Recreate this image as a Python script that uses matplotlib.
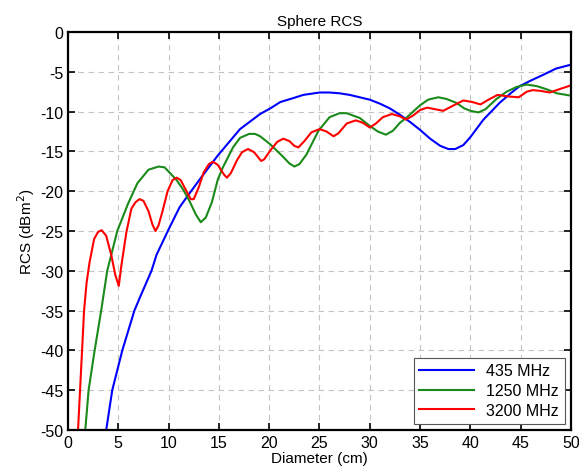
import numpy as np
import matplotlib
matplotlib.use("Agg")
import matplotlib.pyplot as plt

plt.rcParams['font.family'] = ['Liberation Sans', 'DejaVu Sans']
plt.rcParams['axes.unicode_minus'] = False

# values (diameter in cm, RCS in dBm^2)
d435 = [3.8, 4.4, 5.4, 6.6, 7.2, 8.3, 8.8, 10.0, 11.1, 12.0, 13.4, 14.9, 17.1, 19.1, 20.1,
        21.1, 22.4, 23.4, 25.0, 26.0, 27.0, 28.0, 29.0, 30.0, 31.0, 32.0, 33.0, 34.0, 35.0,
        36.0, 37.0, 37.8, 38.5, 39.3, 40.0, 41.3, 42.3, 42.9, 44.0, 44.9, 46.0, 47.2, 48.5, 50.0]
rcs435 = [-50, -45, -40, -35, -33.2, -30, -28, -24.8, -22.0, -20.4, -18.0, -15.5, -12.2, -10.3, -9.6,
          -8.8, -8.3, -7.9, -7.6, -7.6, -7.7, -7.9, -8.2, -8.5, -9.0, -9.6, -10.4, -11.3, -12.3,
          -13.4, -14.3, -14.7, -14.7, -14.2, -13.2, -11.0, -9.7, -8.9, -7.7, -6.8, -6.1, -5.4, -4.6, -4.1]

d1250 = [1.72, 2.05, 2.65, 3.3, 3.9, 4.9, 5.96, 6.9, 8.0, 9.0, 9.6, 10.8, 11.5, 12.1, 12.7, 13.2,
         13.7, 14.3, 14.9, 15.4, 16.4, 17.1, 18.0, 18.6, 19.1, 20.1, 21.4, 22.0, 22.5, 23.0, 23.7,
         24.9, 26.0, 27.0, 27.7, 29.0, 30.0, 30.8, 31.6, 32.3, 33.0, 33.7, 35.0, 35.8, 36.8, 37.6,
         38.6, 39.4, 40.0, 40.8, 41.5, 42.6, 43.6, 44.6, 45.6, 46.6, 47.6, 48.6, 50.0]
rcs1250 = [-50, -45, -40, -35, -30, -25, -21.6, -19.0, -17.3, -16.9, -17.0, -18.6, -19.9, -21.3, -22.9, -23.9,
           -23.3, -21.4, -18.5, -17.0, -14.5, -13.3, -12.8, -12.8, -13.1, -14.1, -15.7, -16.5, -16.9, -16.6, -15.4,
           -12.4, -10.7, -10.2, -10.2, -10.8, -11.8, -12.5, -12.9, -12.4, -11.4, -10.7, -9.2, -8.5, -8.2, -8.4,
           -8.9, -9.6, -9.9, -10.1, -9.7, -8.4, -7.5, -6.9, -6.6, -6.8, -7.2, -7.7, -8.0]

d3200 = [1.0, 1.2, 1.4, 1.6, 1.85, 2.15, 2.6, 3.0, 3.35, 3.8, 4.3, 4.7, 5.05, 5.3, 5.8, 6.3, 6.7,
         7.1, 7.5, 8.0, 8.4, 8.7, 9.0, 9.4, 9.9, 10.4, 10.8, 11.2, 11.7, 12.2, 12.5, 13.0, 13.5,
         14.0, 14.4, 14.9, 15.5, 15.8, 16.2, 16.8, 17.3, 17.9, 18.5, 19.2, 19.5, 20.1, 20.8, 21.4,
         22.0, 22.5, 22.9, 23.5, 24.2, 25.0, 25.7, 26.4, 26.9, 27.7, 28.6, 29.3, 30.0, 30.6, 31.3,
         32.2, 33.0, 33.6, 34.3, 35.0, 35.7, 36.5, 37.3, 38.2, 39.3, 40.2, 41.0, 41.8, 42.7, 43.8,
         44.8, 45.6, 46.2, 47.0, 47.9, 48.8, 50.0]
rcs3200 = [-50, -45, -40, -35, -31.5, -28.9, -26.0, -25.1, -24.9, -25.6, -28.0, -30.5, -31.9, -29.4, -25.2, -22.2, -21.4,
           -21.0, -21.2, -22.5, -24.2, -25.0, -24.3, -22.5, -20.0, -18.6, -18.3, -18.6, -19.8, -21.0, -21.0, -19.5, -17.6,
           -16.6, -16.3, -16.7, -17.9, -18.3, -17.7, -16.1, -15.1, -14.7, -15.1, -16.2, -16.0, -14.9, -13.8, -13.4,
           -13.7, -14.3, -14.5, -13.7, -12.6, -12.2, -12.5, -13.1, -12.7, -11.5, -11.1, -11.4, -12.0, -11.5, -10.7,
           -10.3, -10.6, -11.0, -10.5, -9.8, -9.5, -9.7, -9.9, -9.3, -8.6, -8.8, -9.1, -8.5, -7.9, -8.1,
           -8.2, -7.5, -7.3, -7.4, -7.6, -7.2, -6.7]

labels = ['435 MHz', '1250 MHz', '3200 MHz']
colors = ['#0000ff', '#1a8a1a', '#ff0000']

fig = plt.figure(figsize=(5.79, 4.77), dpi=100)
ax = fig.add_axes([0.1174, 0.0964, 0.8688, 0.8344])

ax.plot(d435, rcs435, color=colors[0], lw=1.5, label=labels[0], solid_joinstyle='round')
ax.plot(d1250, rcs1250, color=colors[1], lw=1.5, label=labels[1], solid_joinstyle='round')
ax.plot(d3200, rcs3200, color=colors[2], lw=1.5, label=labels[2], solid_joinstyle='round')

ax.set_xlim(0, 50)
ax.set_ylim(-50, 0)
ax.set_xticks(np.arange(0, 51, 5))
ax.set_yticks(np.arange(-50, 1, 5))
ax.grid(True, ls=(0, (5, 4)), color='#c4c4c4', lw=0.8)
ax.tick_params(direction='in', top=True, right=True, length=5, width=1.2, labelsize=11.5)
for s in ax.spines.values():
    s.set_linewidth(1.6)

ax.set_title('Sphere RCS', fontsize=11, pad=5)
ax.set_xlabel('Diameter (cm)', fontsize=11, labelpad=1)
ax.set_ylabel('RCS (dBm$^2$)', fontsize=11, labelpad=2)

leg = ax.legend(loc='lower right', fontsize=11.5, fancybox=False, framealpha=1,
                edgecolor='#555555', borderaxespad=0.4, handlelength=3.4,
                labelspacing=0.3, borderpad=0.35)
leg.get_frame().set_linewidth(0.8)

fig.savefig('out.png', dpi=100)
